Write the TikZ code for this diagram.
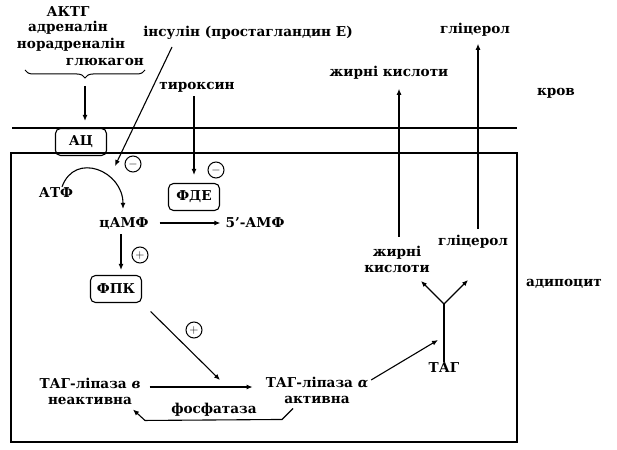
\documentclass[tikz,border=0pt]{standalone}
\usepackage{fontspec}
\setmainfont{DejaVu Serif}
\usetikzlibrary{arrows.meta,positioning,calc,decorations.pathreplacing}
\tikzset{
  lbl/.style={font=\fontsize{13.6}{16}\selectfont\bfseries, inner sep=1pt, align=center},
  enz/.style={lbl, draw, rounded corners=5pt, line width=1.1pt, minimum width=51pt, minimum height=27pt},
  sign/.style={draw, circle, line width=1pt, inner sep=0pt, minimum size=16pt, font=\large},
  flow/.style={-{Latex[length=6pt,width=5pt]}, line width=1.1pt},
  wall/.style={line width=1.3pt},
}

\begin{document}
\begin{tikzpicture}[x=1pt, y=1pt]
  \fill[white] (0,0) rectangle (617,-449);
  \useasboundingbox (0,0) rectangle (617,-449);
  % blood / cell border
  \draw[wall] (12,-128) -- (517,-128);
  \draw[wall] (11,-153) rectangle (517,-442);
  \node[lbl] (krov) at (556,-93) {кров};
  \node[lbl] (adip) at (564,-284) {адипоцит};
  % hormones
  \node[lbl] (aktg) at (68,-12) {АКТГ};
  \node[lbl] (adr) at (68,-28) {адреналін};
  \node[lbl] (nadr) at (71,-45) {норадреналін};
  \node[lbl, anchor=east] (glk) at (145,-62) {глюкагон};
  \draw[decorate, decoration={brace, mirror, amplitude=8pt}, line width=1pt] (25,-70) -- (145,-70);
  \coordinate (braceTip) at (85,-80);
  \node[enz] (ac) at (81,-142) {АЦ};
  \draw[flow, shorten >=7pt] ([yshift=-6pt]braceTip) -- (braceTip |- ac.north);
  % inhibitors
  \node[lbl] (ins) at (248,-33) {інсулін (простагландин Е)};
  \coordinate (insTail) at (172,-47);
  \coordinate (insTip) at (115,-166);
  \draw[flow] (insTail) -- (insTip);
  \node[sign] (minA) at (133,-164) {$-$};
  \node[lbl] (tyr) at (197,-87) {тироксин};
  \node[enz] (fde) at (194,-197) {ФДЕ};
  \draw[flow, shorten <=3pt, shorten >=8pt] (tyr.south -| fde.north) -- (fde.north);
  \node[sign] (minB) at (216,-170) {$-$};
  % cAMP cascade
  \node[lbl] (atf) at (56,-193) {АТФ};
  \node[lbl] (camp) at (124,-223) {цАМФ};
  \node[lbl] (amp5) at (255,-223) {5{\char"27}-АМФ};
  \draw[flow] ([xshift=6pt]atf.north) to[out=70, in=90, looseness=1.5] ([xshift=-1pt, yshift=7pt]camp.north);
  \draw[flow, shorten <=10pt, shorten >=4pt] (camp.east) -- (amp5.west);
  \node[enz] (fpk) at (116,-289) {ФПК};
  \draw[flow, shorten <=4pt, shorten >=5pt] ([xshift=-3pt]camp.south) -- ([xshift=-3pt]camp.south |- fpk.north);
  \node[sign] (plusA) at (140,-255) {$+$};
  % lipase
  \node[lbl] (lipB) at (90,-391) {ТАГ-ліпаза \textit{в}\\неактивна};
  \node[lbl] (lipA) at (317,-390) {ТАГ-ліпаза \textit{α}\\активна};
  \node[lbl] (fosf) at (214,-410) {фосфатаза};
  \coordinate (act) at (220,-380);
  \draw[flow, shorten <=12pt] (fpk.south east) -- (act);
  \node[sign] (plusB) at (194,-330) {$+$};
  \draw[flow, shorten <=8pt, shorten >=12pt] ([yshift=4pt]lipB.east) -- ([yshift=4pt]lipB.east -| lipA.west);
  \draw[flow] ($(lipA.south)+(-24,-4)$) -- ++(-11,-11) -- ($(lipB.south)+(55,-15)$) -- ($(lipB.south)+(43,-4)$);
  % lipolysis products
  \node[lbl] (tag) at (444,-368) {ТАГ};
  \coordinate (tagIn) at (438,-340);
  \draw[flow, shorten <=2pt] ([yshift=9pt]lipA.east) -- (tagIn);
  \coordinate (fork) at (444,-304);
  \coordinate (faTip) at (421,-281);
  \coordinate (glTip) at (468,-280);
  \draw[line width=1.1pt] (tag.north) -- (fork);
  \draw[flow] (fork) -- (faTip);
  \draw[flow] (fork) -- (glTip);
  \node[lbl] (fa) at (397,-259) {жирні\\кислоти};
  \node[lbl] (gl) at (473,-242) {гліцерол};
  \node[lbl] (faOut) at (389,-73) {жирні кислоти};
  \node[lbl] (glOut) at (475,-30) {гліцерол};
  \draw[flow, shorten <=8pt, shorten >=8pt] ([xshift=2pt]fa.north) -- ([xshift=2pt]fa.north |- faOut.south);
  \draw[flow, shorten <=5pt, shorten >=6pt] ([xshift=5pt]gl.north) -- ([xshift=5pt]gl.north |- glOut.south);
\end{tikzpicture}
\end{document}
